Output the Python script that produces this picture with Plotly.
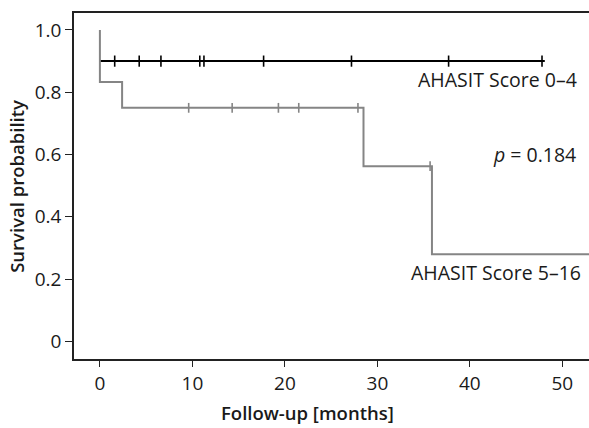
import plotly.graph_objects as go

# Kaplan-Meier step data (months, survival probability)
low_time = [0, 48.1]
low_surv = [0.90, 0.90]
low_censor_t = [1.6, 4.25, 6.6, 10.8, 11.25, 17.7, 27.2, 37.7, 47.8]
low_censor_s = [0.90] * 9

high_time = [0, 0, 2.4, 28.5, 35.9, 53.5]
high_surv = [1.0, 0.833, 0.75, 0.5625, 0.28, 0.28]
high_censor_t = [9.6, 14.3, 19.3, 21.5, 27.9, 35.7]
high_censor_s = [0.75, 0.75, 0.75, 0.75, 0.75, 0.5625]

x_ticks = [0, 10, 20, 30, 40, 50]
y_ticks = [0, 0.2, 0.4, 0.6, 0.8, 1.0]
y_tick_text = ["0", "0.2", "0.4", "0.6", "0.8", "1.0"]

FONT = "Open Sans"
GRAY = "#858585"
TXT = "#1a1a1a"

fig = go.Figure()
fig.add_trace(go.Scatter(x=low_time, y=low_surv, mode="lines", line=dict(color="black", width=2, shape="hv"),
                         showlegend=False, hoverinfo="skip"))
fig.add_trace(go.Scatter(x=low_censor_t, y=low_censor_s, mode="markers",
                         marker=dict(symbol="line-ns", size=8, line=dict(color="black", width=1.6)),
                         showlegend=False))
fig.add_trace(go.Scatter(x=high_time, y=high_surv, mode="lines", line=dict(color=GRAY, width=2, shape="hv"),
                         showlegend=False, hoverinfo="skip"))
fig.add_trace(go.Scatter(x=high_censor_t, y=high_censor_s, mode="markers",
                         marker=dict(symbol="line-ns", size=7, line=dict(color=GRAY, width=1.6)),
                         showlegend=False))

ann_font = dict(family=FONT, size=19.5, color=TXT)
fig.add_annotation(x=51.8, y=0.84, text="AHASIT Score 0–4", showarrow=False, xanchor="right", yanchor="middle", font=ann_font)
fig.add_annotation(x=51.7, y=0.599, text="<i>p</i> = 0.184", showarrow=False, xanchor="right", yanchor="middle", font=ann_font)
fig.add_annotation(x=52.2, y=0.22, text="AHASIT Score 5–16", showarrow=False, xanchor="right", yanchor="middle", font=ann_font)

title_font = dict(family=FONT, size=18.5, color=TXT, weight=600)
fig.add_annotation(xref="paper", yref="paper", x=0.454, y=-0.156, text="Follow-up [months]", showarrow=False,
                   xanchor="center", yanchor="middle", font=title_font)
fig.add_annotation(xref="paper", yref="paper", x=-0.113, y=0.5, text="Survival probability", showarrow=False,
                   xanchor="center", yanchor="middle", textangle=-90, font=title_font)

fig.update_layout(
    width=589, height=428,
    margin=dict(l=74, r=0, t=13, b=69),
    paper_bgcolor="white", plot_bgcolor="white",
    font=dict(family=FONT, size=19, color=TXT),
)
fig.update_xaxes(range=[-2.8, 52.88], tickvals=x_ticks, ticks="outside", ticklen=6, tickwidth=1.2,
                 tickcolor="#222", showline=True, linecolor="#222", linewidth=1.5, mirror=True,
                 showgrid=False, zeroline=False, tickfont=dict(size=19, color=TXT))
fig.update_yaxes(range=[-0.0565, 1.0545], tickvals=y_ticks, ticktext=y_tick_text, ticks="outside", ticklen=7,
                 tickwidth=1.2, tickcolor="#222", showline=True, linecolor="#222", linewidth=1.5,
                 showgrid=False, zeroline=False, tickfont=dict(size=19, color=TXT))

fig.write_html("out.html", config={"displayModeBar": False},
               post_script="document.body.style.margin='0px';document.body.style.overflow='hidden';")
